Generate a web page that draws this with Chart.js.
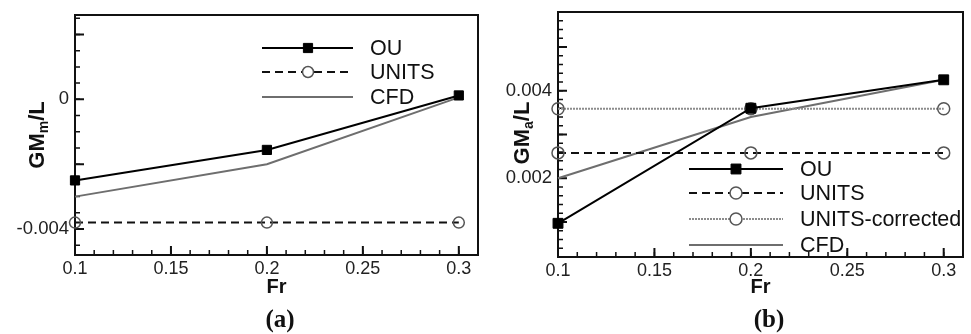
<!DOCTYPE html>
<html>
<head>
<meta charset="utf-8">
<script src="https://cdn.jsdelivr.net/npm/chart.js@4.4.0/dist/chart.umd.min.js"></script>
<style>
body { margin: 0; background: #fff; width: 971px; height: 334px; overflow: hidden; position: relative; }
.box { position: absolute; top: 0; height: 334px; }
#wa { left: 0; width: 490px; }
#wb { left: 490px; width: 481px; }
.cap { position: absolute; top: 305px; width: 60px; text-align: center; font: bold 25px "Liberation Serif", "Times New Roman", serif; color: #111; }
</style>
</head>
<body>
<div class="box" id="wa"><canvas id="chartA" width="490" height="334"></canvas></div>
<div class="box" id="wb"><canvas id="chartB" width="481" height="334"></canvas></div>
<div class="cap" style="left:250px">(a)</div>
<div class="cap" style="left:739px">(b)</div>
<script>
const fr = [0.1, 0.2, 0.3]
const xTicks = [0.1, 0.15, 0.2, 0.25, 0.3]

// (a) GMm/L
const ouA = [-0.0025, -0.00156, 0.00012]
const unitsA = [-0.0038, -0.0038, -0.0038]
const cfdA = [-0.003, -0.002, 0.00006]
const yTicksA = [-0.004, 0]

// (b) GMa/L
const ouB = [0.00097, 0.0036, 0.00425]
const unitsB = [0.00258, 0.00258, 0.00258]
const unitsCorrB = [0.00359, 0.00359, 0.00359]
const cfdB = [0.002, 0.0034, 0.00425]
const yTicksB = [0.002, 0.004]

const FONT = '"Liberation Sans", Arial, sans-serif'
Chart.defaults.font.family = FONT

function xy(ys) {
    return fr.map((x, i) => ({ x: x, y: ys[i] }))
}

const ouStyle = r => ({ borderColor: '#000', borderWidth: 2, pointStyle: 'rect', pointRadius: r, pointBackgroundColor: '#000', pointBorderColor: '#000', pointBorderWidth: 1 })
const unitsStyle = r => ({ borderColor: '#111', borderWidth: 2, borderDash: [8, 5], pointStyle: 'circle', pointRadius: r, pointBackgroundColor: 'rgba(0,0,0,0)', pointBorderColor: '#555', pointBorderWidth: 1.5 })
const corrStyle = r => ({ borderColor: '#8c8c8c', borderWidth: 2, borderDash: [2, 1], pointStyle: 'circle', pointRadius: r, pointBackgroundColor: 'rgba(0,0,0,0)', pointBorderColor: '#555', pointBorderWidth: 1.5 })
const cfdStyle = { borderColor: '#6e6e6e', borderWidth: 2, pointRadius: 0 }

function tickMarks(ctx, scale, step, len, horiz, a) {
    const k0 = Math.ceil(scale.min / step - 1e-6)
    const k1 = Math.floor(scale.max / step + 1e-6)
    ctx.beginPath()
    for (let k = k0; k <= k1; k++) {
        const p = scale.getPixelForValue(k * step)
        if (horiz) { ctx.moveTo(p, a.bottom); ctx.lineTo(p, a.bottom - len) }
        else { ctx.moveTo(a.left, p); ctx.lineTo(a.left + len, p) }
    }
    ctx.stroke()
}

const framePlugin = {
    id: 'frame',
    beforeDatasetsDraw(chart, args, o) {
        const { ctx, chartArea: a, scales: { x, y } } = chart
        ctx.save()
        ctx.strokeStyle = '#111'
        ctx.lineWidth = 1.5
        tickMarks(ctx, x, 0.01, 5, true, a)
        tickMarks(ctx, y, o.yMinor, 5, false, a)
        ctx.lineWidth = 2
        tickMarks(ctx, x, 0.05, 9, true, a)
        tickMarks(ctx, y, o.yMajor, 9, false, a)
        ctx.strokeRect(a.left, a.top, a.right - a.left, a.bottom - a.top)

        // y title with subscript
        ctx.translate(o.title.x, o.title.y)
        ctx.rotate(-Math.PI / 2)
        ctx.fillStyle = '#111'
        ctx.textBaseline = 'alphabetic'
        const big = 'bold 22px ' + FONT, small = 'bold 14px ' + FONT
        ctx.font = big
        const w1 = ctx.measureText('GM').width, w3 = ctx.measureText('/L').width
        ctx.font = small
        const w2 = ctx.measureText(o.title.sub).width
        let px = -(w1 + w2 + w3) / 2
        ctx.font = big
        ctx.fillText('GM', px, 8)
        ctx.font = small
        ctx.fillText(o.title.sub, px + w1, 12)
        ctx.font = big
        ctx.fillText('/L', px + w1 + w2, 8)
        ctx.restore()
    },
    afterDatasetsDraw(chart, args, o) {
        const { ctx } = chart
        const L = o.legend
        ctx.save()
        chart.data.datasets.forEach((ds, i) => {
            const yy = L.rows[i]
            ctx.strokeStyle = ds.borderColor
            ctx.lineWidth = ds.borderWidth
            ctx.setLineDash(ds.borderDash || [])
            ctx.beginPath()
            ctx.moveTo(L.x0, yy)
            ctx.lineTo(L.x1, yy)
            ctx.stroke()
            ctx.setLineDash([])
            if (ds.pointRadius > 0) {
                ctx.fillStyle = ds.pointStyle === 'rect' ? '#000' : '#fff'
                ctx.strokeStyle = ds.pointBorderColor
                ctx.lineWidth = ds.pointBorderWidth
                Chart.helpers.drawPoint(ctx, { pointStyle: ds.pointStyle, radius: ds.pointRadius, borderWidth: ds.pointBorderWidth, rotation: 0 }, L.xm, yy)
            }
            ctx.fillStyle = '#111'
            ctx.font = '21.5px ' + FONT
            ctx.textBaseline = 'middle'
            ctx.fillText(ds.label, L.tx, yy + 1)
        })
        ctx.restore()
    }
}

function axes(ymin, ymax, yTicks, yWidth, xHeight) {
    return {
        x: {
            type: 'linear', min: 0.1, max: 0.31,
            afterBuildTicks: s => { s.ticks = xTicks.map(v => ({ value: v })) },
            afterFit: s => { s.height = xHeight; s.paddingLeft = 0; s.paddingRight = 0 },
            ticks: { callback: v => String(v), font: { size: 18 }, color: '#222', padding: 3, maxRotation: 0, autoSkip: false },
            grid: { display: false, drawTicks: false },
            border: { display: false },
            title: { display: true, text: 'Fr', font: { size: 20, weight: 'bold' }, color: '#111', padding: 0 }
        },
        y: {
            type: 'linear', min: ymin, max: ymax,
            afterBuildTicks: s => { s.ticks = yTicks.map(v => ({ value: v })) },
            afterFit: s => { s.width = yWidth; s.paddingTop = 0; s.paddingBottom = 0 },
            ticks: { callback: v => String(v), font: { size: 18.5 }, color: '#222', padding: 6 },
            grid: { display: false, drawTicks: false },
            border: { display: false }
        }
    }
}

new Chart(document.getElementById('chartA'), {
    type: 'line',
    data: {
        datasets: [
            { label: 'OU', data: xy(ouA), ...ouStyle(6.5) },
            { label: 'UNITS', data: xy(unitsA), ...unitsStyle(5.5) },
            { label: 'CFD', data: xy(cfdA), ...cfdStyle }
        ]
    },
    options: {
        responsive: false,
        animation: false,
        clip: false,
        layout: { padding: { top: 15, right: 12, left: 0, bottom: 35 } },
        scales: axes(-0.0048, 0.0026, yTicksA, 75, 44),
        plugins: {
            legend: { display: false },
            tooltip: { enabled: false },
            frame: {
                yMajor: 0.002, yMinor: 0.0005,
                title: { x: 36, y: 135, sub: 'm' },
                legend: { x0: 262, x1: 353, xm: 308, tx: 370, rows: [48, 72, 97] }
            }
        }
    },
    plugins: [framePlugin]
});

new Chart(document.getElementById('chartB'), {
    type: 'line',
    data: {
        datasets: [
            { label: 'OU', data: xy(ouB), ...ouStyle(7) },
            { label: 'UNITS', data: xy(unitsB), ...unitsStyle(6) },
            { label: 'UNITS-corrected', data: xy(unitsCorrB), ...corrStyle(6) },
            { label: 'CFD', data: xy(cfdB), ...cfdStyle }
        ]
    },
    options: {
        responsive: false,
        animation: false,
        clip: false,
        layout: { padding: { top: 12, right: 1, left: 0, bottom: 35 } },
        scales: axes(0.0002, 0.0058, yTicksB, 68, 42),
        plugins: {
            legend: { display: false },
            tooltip: { enabled: false },
            frame: {
                yMajor: 0.001, yMinor: 0.0002,
                title: { x: 31, y: 133, sub: 'a' },
                legend: { x0: 199, x1: 293, xm: 246, tx: 310, rows: [169, 193, 219, 245] }
            }
        }
    },
    plugins: [framePlugin]
});
</script>
</body>
</html>
